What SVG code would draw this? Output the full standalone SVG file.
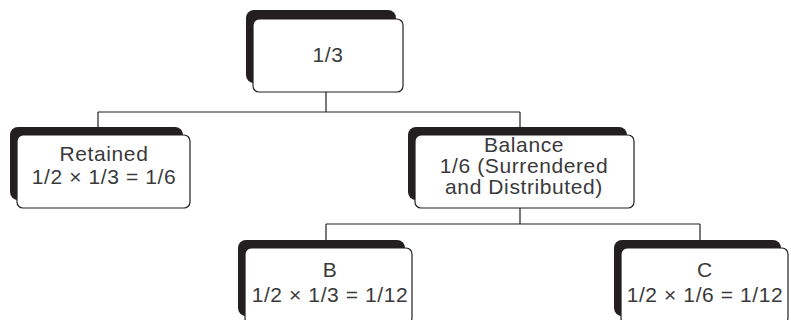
<svg xmlns="http://www.w3.org/2000/svg" width="791" height="320" viewBox="0 0 791 320">
<style>
.sh{fill:#231f20;}
.bx{fill:#fff;stroke:#231f20;stroke-width:1.2;}
.t{font-family:"Liberation Sans",Arial,sans-serif;font-size:21px;letter-spacing:0.6px;fill:#3a3a3a;text-anchor:middle;}
.c{fill:none;stroke:#231f20;stroke-width:1.2;}
</style>
<rect width="791" height="320" fill="#fff"/>
<g id="connectors">
<path class="c" d="M326 92V112M98 112H520M98 112V127M520 112V127M520 208V224M326 224H700M326 224V240M700 224V240"/>
</g>
<g id="n-top">
<rect class="sh" x="246" y="10" width="150" height="73" rx="8"/>
<rect class="bx" x="253" y="19" width="150" height="73" rx="6"/>
<text class="t" x="328" y="62">1/3</text>
</g>
<g id="n-retained">
<rect class="sh" x="10" y="127" width="173" height="73" rx="8"/>
<rect class="bx" x="17" y="135" width="173" height="73" rx="6"/>
<text class="t" x="104" y="161">Retained</text>
<text class="t" x="104" y="184">1/2 × 1/3 = 1/6</text>
</g>
<g id="n-balance">
<rect class="sh" x="408" y="127" width="219" height="73" rx="8"/>
<rect class="bx" x="415" y="135" width="219" height="73" rx="6"/>
<text class="t" x="524" y="152">Balance</text>
<text class="t" x="524" y="173">1/6 (Surrendered</text>
<text class="t" x="524" y="194">and Distributed)</text>
</g>
<g id="n-b">
<rect class="sh" x="238" y="240" width="167" height="76" rx="8"/>
<rect class="bx" x="245" y="248" width="167" height="76" rx="6"/>
<text class="t" x="330" y="277">B</text>
<text class="t" x="330" y="302">1/2 × 1/3 = 1/12</text>
</g>
<g id="n-c">
<rect class="sh" x="614" y="240" width="167" height="76" rx="8"/>
<rect class="bx" x="621" y="248" width="167" height="76" rx="6"/>
<text class="t" x="705" y="277">C</text>
<text class="t" x="705" y="302">1/2 × 1/6 = 1/12</text>
</g>
</svg>
